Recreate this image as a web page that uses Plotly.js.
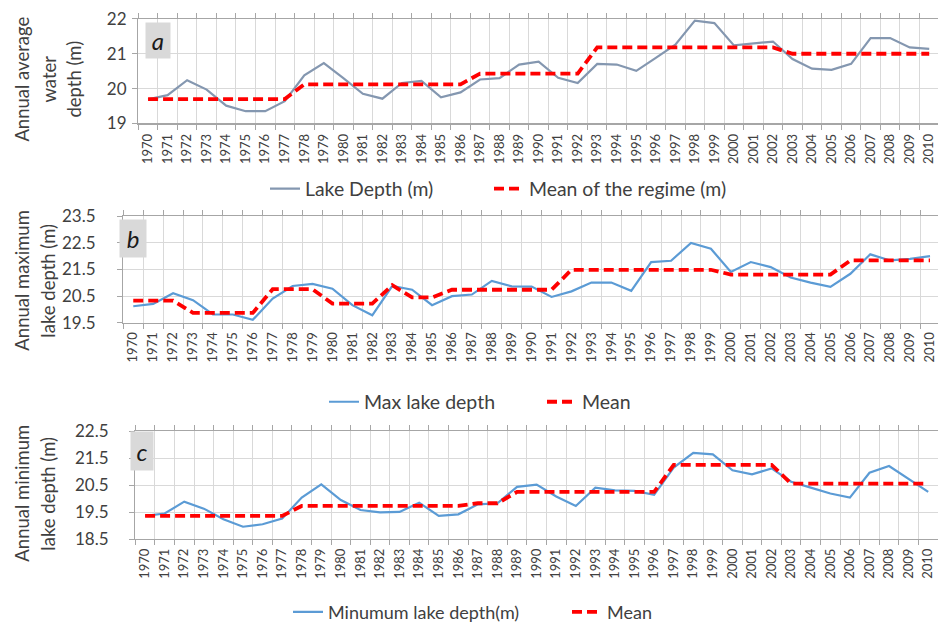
<!DOCTYPE html>
<html><head><meta charset="utf-8">
<script src="https://cdn.plot.ly/plotly-3.0.1.min.js"></script>
<style>html,body{margin:0;padding:0;background:#fff}#chart{width:938px;height:631px}</style>
</head><body><div id="chart"></div>
<script>
const years = ["1970","1971","1972","1973","1974","1975","1976","1977","1978","1979",
  "1980","1981","1982","1983","1984","1985","1986","1987","1988","1989",
  "1990","1991","1992","1993","1994","1995","1996","1997","1998","1999",
  "2000","2001","2002","2003","2004","2005","2006","2007","2008","2009","2010"];

const avgDepth = [19.69,19.81,20.24,19.97,19.51,19.35,19.35,19.64,20.38,20.73,
  20.30,19.85,19.71,20.16,20.22,19.75,19.89,20.26,20.30,20.69,
  20.77,20.31,20.16,20.71,20.69,20.51,20.88,21.26,21.95,21.88,
  21.24,21.29,21.35,20.85,20.57,20.54,20.71,21.45,21.45,21.18,21.14];
const avgMean = [19.70,19.70,19.70,19.70,19.70,19.70,19.70,19.70,20.12,20.12,
  20.12,20.12,20.12,20.12,20.12,20.12,20.12,20.43,20.43,20.43,
  20.43,20.43,20.43,21.18,21.18,21.18,21.18,21.18,21.18,21.18,
  21.18,21.18,21.18,21.00,21.00,21.00,21.00,21.00,21.00,21.00,21.00];

const maxDepth = [20.12,20.21,20.61,20.35,19.81,19.81,19.61,20.41,20.88,20.96,
  20.78,20.16,19.78,20.88,20.74,20.16,20.50,20.56,21.07,20.87,
  20.86,20.47,20.68,21.01,21.01,20.70,21.78,21.83,22.50,22.28,
  21.41,21.78,21.59,21.20,21.01,20.85,21.34,22.07,21.84,21.90,22.00];
const maxMean = [20.33,20.33,20.33,19.87,19.87,19.87,19.87,20.76,20.76,20.76,
  20.22,20.22,20.22,20.91,20.45,20.45,20.74,20.74,20.74,20.74,
  20.74,20.74,21.49,21.49,21.49,21.49,21.49,21.49,21.49,21.49,
  21.31,21.31,21.31,21.31,21.31,21.31,21.84,21.84,21.84,21.84,21.84];

const minDepth = [19.36,19.45,19.89,19.63,19.24,18.96,19.05,19.26,20.04,20.53,
  19.95,19.58,19.49,19.51,19.85,19.36,19.42,19.79,19.83,20.44,
  20.52,20.08,19.73,20.41,20.31,20.29,20.14,21.15,21.70,21.64,
  21.05,20.90,21.12,20.63,20.41,20.19,20.04,20.96,21.21,20.74,20.25];
const minMean = [19.36,19.36,19.36,19.36,19.36,19.36,19.36,19.36,19.73,19.73,
  19.73,19.73,19.73,19.73,19.73,19.73,19.73,19.83,19.83,20.25,
  20.25,20.25,20.25,20.25,20.25,20.25,20.25,21.25,21.25,21.25,
  21.25,21.25,21.25,20.56,20.56,20.56,20.56,20.56,20.56,20.56,20.56];

const W = 938, H = 631;
const px = v => v / W;
const py = v => 1 - v / H;
const FONT = 'Lato, "Open Sans", sans-serif';
const TXT = '#404040';
const RED = '#ff0000';
const redLine = {color: RED, width: 3.8, dash: '10px,5px'};

const traces = [
  {x: years, y: avgDepth, xaxis: 'x', yaxis: 'y', type: 'scatter', mode: 'lines', name: 'Lake Depth (m)',
   line: {color: '#8497b0', width: 2.2}, legend: 'legend'},
  {x: years, y: avgMean, xaxis: 'x', yaxis: 'y', type: 'scatter', mode: 'lines', name: 'Mean of the regime (m)',
   line: redLine, legend: 'legend2'},
  {x: years, y: maxDepth, xaxis: 'x2', yaxis: 'y2', type: 'scatter', mode: 'lines', name: 'Max lake depth',
   line: {color: '#5b9bd5', width: 2.2}, legend: 'legend3'},
  {x: years, y: maxMean, xaxis: 'x2', yaxis: 'y2', type: 'scatter', mode: 'lines', name: 'Mean',
   line: redLine, legend: 'legend4'},
  {x: years, y: minDepth, xaxis: 'x3', yaxis: 'y3', type: 'scatter', mode: 'lines', name: 'Minumum lake depth(m)',
   line: {color: '#5b9bd5', width: 2.2}, legend: 'legend5'},
  {x: years, y: minMean, xaxis: 'x3', yaxis: 'y3', type: 'scatter', mode: 'lines', name: 'Mean',
   line: redLine, legend: 'legend6'}
];

function xax(left, rangeEnd, standoff) {
  return {
    type: 'category', domain: [px(left), 1], range: [-0.5, rangeEnd],
    tickson: 'boundaries', ticks: 'outside', ticklen: 5, tickcolor: '#a6a6a6',
    showline: true, linecolor: '#a6a6a6', linewidth: 1.3, mirror: 'ticks',
    showgrid: true, gridcolor: '#d9d9d9', gridwidth: 1,
    tickangle: -90, tickfont: {family: FONT, size: 13, color: TXT}, ticklabelstandoff: standoff,
    zeroline: false, fixedrange: true
  };
}
function yax(top, bottom, range, dtick, anchor, standoff) {
  return {
    domain: [py(bottom), py(top)], range: range, dtick: dtick, tick0: range[0],
    ticks: 'outside', ticklen: 5, tickcolor: '#a6a6a6',
    showline: true, linecolor: '#a6a6a6', linewidth: 1.3,
    showgrid: true, gridcolor: '#d9d9d9', gridwidth: 1,
    tickfont: {family: FONT, size: 17, color: TXT}, ticklabelstandoff: standoff,
    zeroline: false, anchor: anchor, fixedrange: true
  };
}
// each legend holds one entry; x is where the entry's line sample begins (px)
function leg(x, y, fs) {
  return {orientation: 'h', x: px(x), y: py(y), xanchor: 'left', yanchor: 'middle',
    xref: 'paper', yref: 'paper',
    font: {family: FONT, size: fs, color: TXT}, bgcolor: 'rgba(0,0,0,0)'};
}
function ytitle(text, x, y) {
  return {text: text, x: px(x), y: py(y), xref: 'paper', yref: 'paper', showarrow: false,
    textangle: -90, xanchor: 'center', yanchor: 'middle',
    font: {family: FONT, size: 18.5, color: TXT}};
}
function letter(t, x0, y0, w, h) {
  return {text: t, x: px(x0), y: py(y0), xref: 'paper', yref: 'paper', showarrow: false,
    xanchor: 'left', yanchor: 'top', width: w, height: h, borderpad: 0,
    bgcolor: '#d9d9d9', align: 'center', valign: 'middle',
    font: {family: FONT, size: 24, color: '#1a1a1a', style: 'italic'}};
}

const layout = {
  width: W, height: H, margin: {l: 0, r: 0, t: 0, b: 0},
  paper_bgcolor: '#ffffff', plot_bgcolor: '#ffffff',
  showlegend: true,
  xaxis: Object.assign(xax(138.3, 40.45, 4), {anchor: 'y'}),
  yaxis: yax(19, 124, [19, 22], 1, 'x', 2),
  xaxis2: Object.assign(xax(123.3, 40.4, 3), {anchor: 'y2'}),
  yaxis2: yax(217.3, 324.3, [19.5, 23.5], 1, 'x2', 18),
  xaxis3: Object.assign(xax(135.3, 40.5, 3), {anchor: 'y3'}),
  yaxis3: yax(433.3, 541.7, [18.5, 22.5], 1, 'x3', 17),
  legend: leg(265, 190, 19.4),
  legend2: leg(489, 190, 19.4),
  legend3: leg(324, 404, 19.5),
  legend4: leg(542, 404, 19.5),
  legend5: leg(288, 615, 18),
  legend6: leg(567, 615, 18),
  annotations: [
    ytitle('Annual average', 22, 80),
    ytitle('water', 49, 80),
    ytitle('depth (m)', 74, 80),
    ytitle('Annual maximum', 22, 282),
    ytitle('lake depth (m)', 48, 282),
    ytitle('Annual minimum', 22, 496),
    ytitle('lake depth (m)', 48, 496),
    letter('a', 145, 22, 24, 35),
    letter('b', 119, 220, 26, 37),
    letter('c', 130, 433, 22, 38)
  ]
};

Plotly.newPlot('chart', traces, layout, {displayModeBar: false, staticPlot: true});
</script>
</body></html>
